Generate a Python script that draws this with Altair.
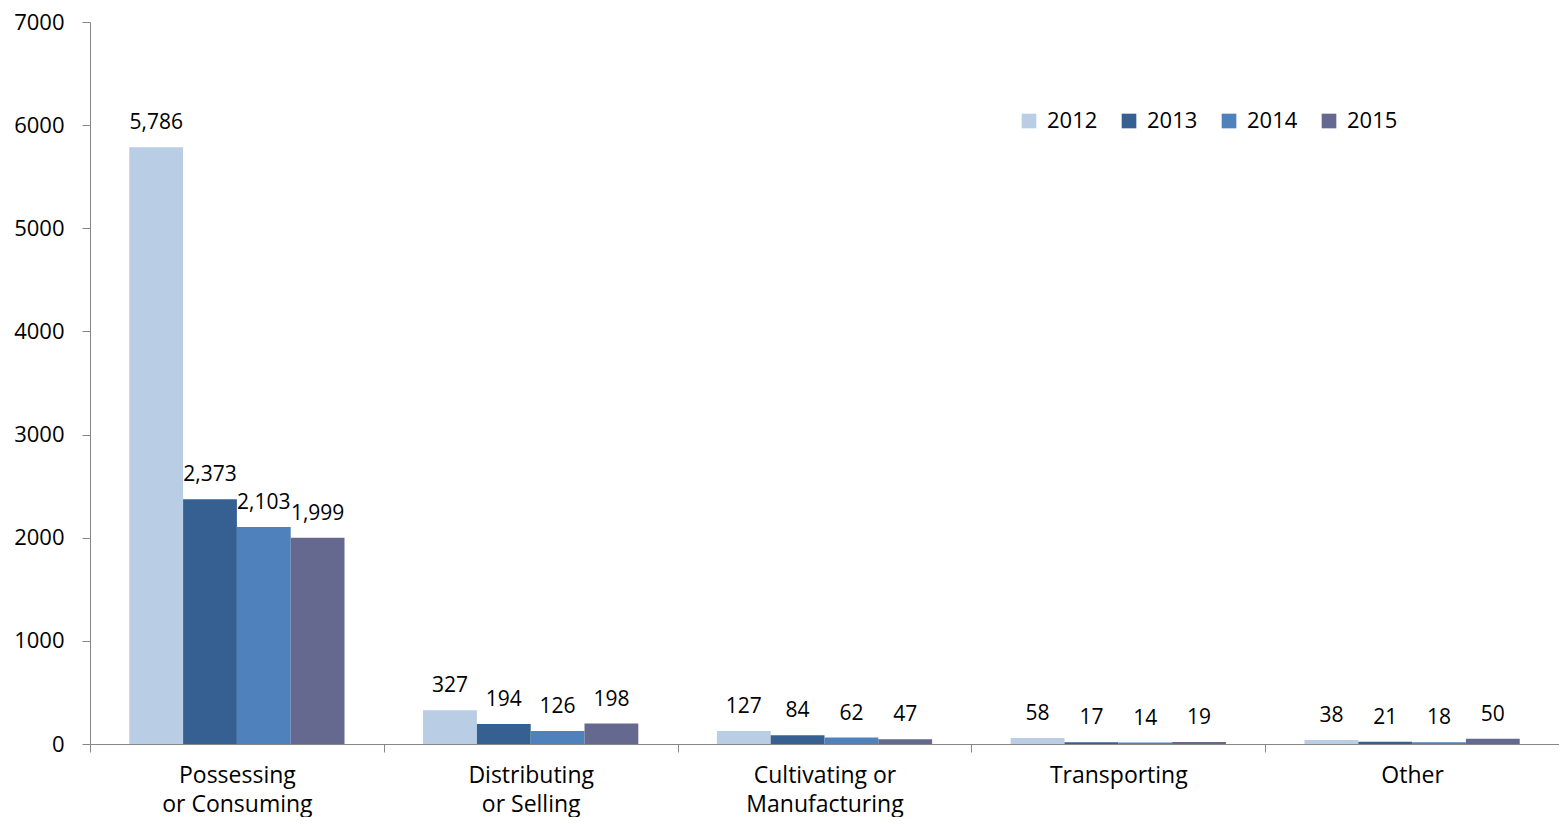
import altair as alt
import pandas as pd

categories = ["Possessing|or Consuming", "Distributing|or Selling", "Cultivating or|Manufacturing", "Transporting", "Other"]
years = ["2012", "2013", "2014", "2015"]
v2012 = [5786, 327, 127, 58, 38]
v2013 = [2373, 194, 84, 17, 21]
v2014 = [2103, 126, 62, 14, 18]
v2015 = [1999, 198, 47, 19, 50]
colors = ["#B9CDE5", "#376092", "#4F81BD", "#65698F"]

rows = []
for yr, vals in zip(years, [v2012, v2013, v2014, v2015]):
    for c, v in zip(categories, vals):
        rows.append({"category": c, "year": yr, "value": v})
df = pd.DataFrame(rows)

FONT = "Open Sans"

x = alt.X("category:N", sort=categories, title=None,
          scale=alt.Scale(paddingInner=0, paddingOuter=0),
          axis=alt.Axis(labelAngle=0, labelExpr="split(datum.label, '|')",
                        tickBand="extent", tickSize=8, labelPadding=12,
                        labelLineHeight=29, labelFontSize=23, labelFont=FONT,
                        labelColor="#000000", domainColor="#868686",
                        tickColor="#868686", grid=False))
xo = alt.XOffset("year:N", sort=years,
                 scale=alt.Scale(paddingOuter=0.73, paddingInner=0))
y = alt.Y("value:Q", title=None,
          scale=alt.Scale(domain=[0, 7000], nice=False),
          axis=alt.Axis(values=[0, 1000, 2000, 3000, 4000, 5000, 6000, 7000],
                        format="d", tickSize=8, labelPadding=18,
                        labelFontSize=22, labelFont=FONT, labelColor="#000000",
                        domainColor="#868686", tickColor="#868686", grid=False))

bars = alt.Chart(df).mark_bar().encode(
    x=x, xOffset=xo, y=y,
    color=alt.Color("year:N", sort=years,
                    scale=alt.Scale(domain=years, range=colors),
                    legend=alt.Legend(title=None, orient="none", legendX=928, legendY=88,
                                      direction="horizontal", symbolType="square",
                                      symbolSize=215, symbolStrokeWidth=0,
                                      labelFontSize=22, labelFont=FONT,
                                      labelColor="#000000", labelOffset=7,
                                      columnPadding=20)),
)

labels = alt.Chart(df).mark_text(baseline="alphabetic", dy=-18, fontSize=21,
                                 font=FONT, color="#000000").encode(
    x=alt.X("category:N", sort=categories), xOffset=xo,
    y=alt.Y("value:Q"),
    text=alt.Text("value:Q", format=",d"),
)

chart = (bars + labels).properties(
    width=1469, height=722,
    autosize=alt.AutoSizeParams(type="none"),
    padding={"left": 82, "top": 14, "right": 0, "bottom": 73},
).configure_view(stroke=None)

chart.save("out.html", embed_options={"renderer": "svg", "actions": False})
